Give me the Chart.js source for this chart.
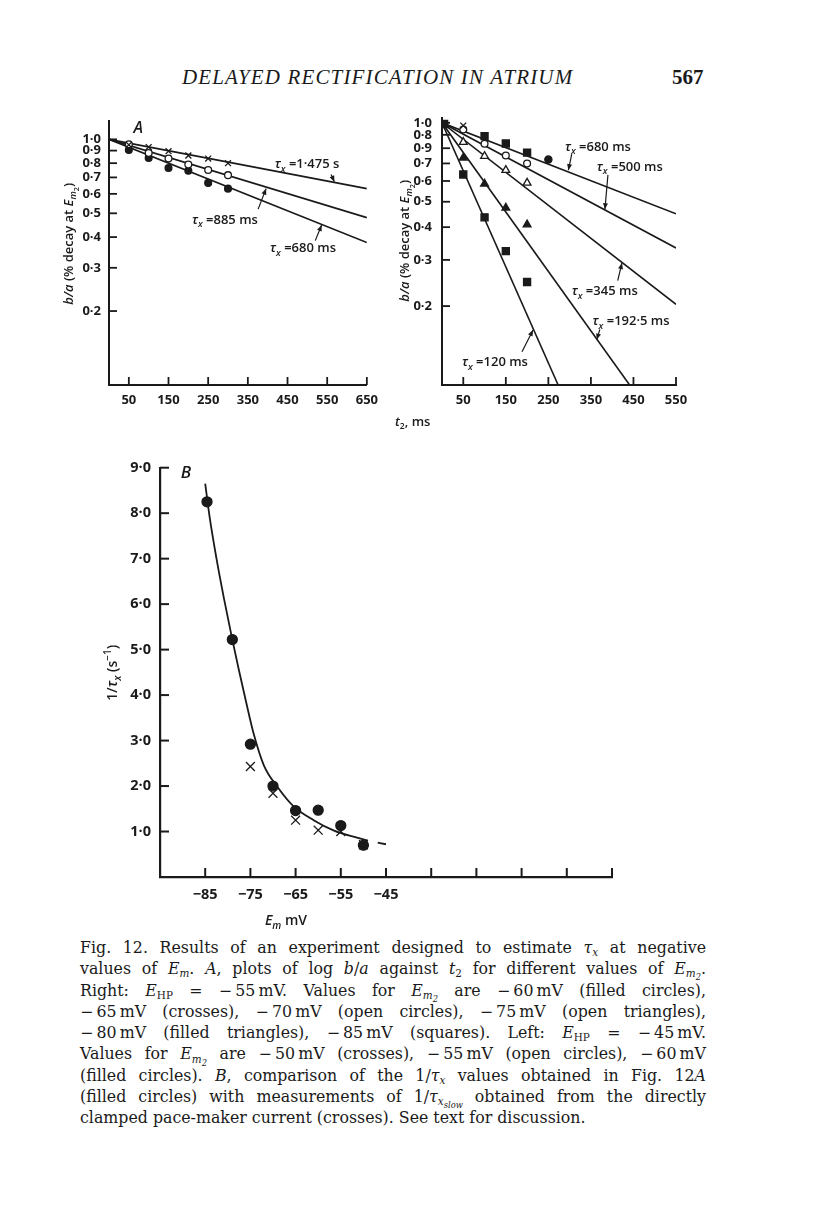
<!DOCTYPE html>
<html>
<head>
<meta charset="utf-8">
<script src="https://cdn.jsdelivr.net/npm/chart.js@4.4.1/dist/chart.umd.min.js"></script>
<style>
  body { margin: 0; background: #fff; width: 816px; height: 1219px; position: relative; overflow: hidden; color: #1a1a1a; }
  .plot { position: absolute; }
  #header { position: absolute; left: 182px; top: 67px; font-family: 'Liberation Serif', serif; font-style: italic; font-size: 21px; letter-spacing: 1.15px; line-height: 21px; }
  #pageno { position: absolute; left: 672px; top: 67px; font-family: 'Liberation Serif', serif; font-weight: bold; font-size: 21px; line-height: 21px; }
  #t2 { position: absolute; left: 395px; top: 412px; font-family: 'Open Sans', sans-serif; font-weight: 600; font-size: 13px; }
  #caption { position: absolute; left: 80px; top: 937px; width: 626px; font-family: 'DejaVu Serif', serif; font-size: 15.8px; }
  #caption div { height: 21.3px; line-height: 21.3px; text-align: justify; text-align-last: justify; }
  #caption div.last { text-align-last: left; }
  sub { font-size: 0.66em; vertical-align: -0.3em; line-height: 0; }
  sub sub { font-size: 0.8em; vertical-align: -0.35em; }
</style>
</head>
<body>
<div id="header">DELAYED RECTIFICATION IN ATRIUM</div>
<div id="pageno">567</div>

<canvas id="plotLeft" class="plot" width="345" height="320" style="left:40px;top:105px"></canvas>
<canvas id="plotRight" class="plot" width="316" height="325" style="left:380px;top:100px"></canvas>
<div id="t2"><i>t</i><sub>2</sub>, ms</div>
<canvas id="plotB" class="plot" width="530" height="480" style="left:100px;top:450px"></canvas>

<div id="caption">
  <div>Fig. 12. Results of an experiment designed to estimate <i>τ<sub>x</sub></i> at negative</div>
  <div>values of <i>E<sub>m</sub></i>. <i>A</i>, plots of log <i>b</i>/<i>a</i> against <i>t</i><sub>2</sub> for different values of <i>E<sub>m<sub>2</sub></sub></i>.</div>
  <div>Right: <i>E</i><sub>HP</sub> = −&thinsp;55&thinsp;mV. Values for <i>E<sub>m<sub>2</sub></sub></i> are −&thinsp;60&thinsp;mV (filled circles),</div>
  <div>−&thinsp;65&thinsp;mV (crosses), −&thinsp;70&thinsp;mV (open circles), −&thinsp;75&thinsp;mV (open triangles),</div>
  <div>−&thinsp;80&thinsp;mV (filled triangles), −&thinsp;85&thinsp;mV (squares). Left: <i>E</i><sub>HP</sub> = −&thinsp;45&thinsp;mV.</div>
  <div>Values for <i>E<sub>m<sub>2</sub></sub></i> are −&thinsp;50&thinsp;mV (crosses), −&thinsp;55&thinsp;mV (open circles), −&thinsp;60&thinsp;mV</div>
  <div>(filled circles). <i>B</i>, comparison of the 1/<i>τ<sub>x</sub></i> values obtained in Fig. 12<i>A</i></div>
  <div>(filled circles) with measurements of 1/<i>τ<sub>x<sub>slow</sub></sub></i> obtained from the directly</div>
  <div class="last">clamped pace-maker current (crosses). See text for discussion.</div>
</div>

<script>
// ---- Fig. 12A, left panel (E_HP = -45 mV) ----
const xTicksA = [50, 150, 250, 350, 450, 550, 650];
const xLabelsA = ['50', '150', '250', '350', '450', '550', '650'];
const yTicksA = [1.0, 0.9, 0.8, 0.7, 0.6, 0.5, 0.4, 0.3, 0.2];
const yLabelsLeft = ['1·0', '0·9', '0·8', '0·7', '0·6', '0·5', '0·4', '0·3', '0·2'];
// the printed right-hand axis has 0·8 and 0·9 swapped
const yLabelsRight = ['1·0', '0·8', '0·9', '0·7', '0·6', '0·5', '0·4', '0·3', '0·2'];

const tLeft = [50, 100, 150, 200, 250, 300];
const leftCrosses = [0.95, 0.93, 0.895, 0.86, 0.835, 0.80];
const leftOpenCircles = [0.955, 0.88, 0.835, 0.79, 0.75, 0.715];
const leftFilledCircles = [0.905, 0.84, 0.765, 0.745, 0.665, 0.63];
const leftFitT = [0, 650];
const leftFit1475 = [1.0, 0.63];
const leftFit885 = [1.0, 0.48];
const leftFit680 = [1.0, 0.38];

// ---- Fig. 12A, right panel (E_HP = -55 mV) ----
const xTicksR = [50, 150, 250, 350, 450, 550];
const xLabelsR = ['50', '150', '250', '350', '450', '550'];
const tRight = [50, 100, 150, 200];
const rightTopSquaresT = [100, 150, 200];
const rightTopSquares = [0.89, 0.834, 0.77];
const rightFilledCircleT = [250];
const rightFilledCircle = [0.724];
const rightCrossT = [50];
const rightCross = [0.976];
const rightOpenCircles = [0.943, 0.832, 0.75, 0.70];
const rightOpenTriangles = [0.844, 0.746, 0.66, 0.59];
const rightFilledTriangles = [0.735, 0.585, 0.474, 0.409];
const rightSquaresT = [5, 50, 100, 150, 200];
const rightSquares = [0.99, 0.635, 0.436, 0.324, 0.247];
const rightFitT = [0, 550];
const rightFit680 = [1.0, 0.45];
const rightFit500 = [1.0, 0.333];
const rightFit345 = [1.0, 0.203];
const rightFit192T = [0, 441];
const rightFit192 = [1.0, 0.1];
const rightFit120T = [0, 273];
const rightFit120 = [1.0, 0.1];

// ---- Fig. 12B ----
const xTicksB = [-85, -75, -65, -55, -45, -35, -25, -15, -5, 5];
const xLabelsB = ['−85', '−75', '−65', '−55', '−45', '', '', '', '', ''];
const yTicksB = [1, 2, 3, 4, 5, 6, 7, 8, 9];
const yLabelsB = ['1·0', '2·0', '3·0', '4·0', '5·0', '6·0', '7·0', '8·0', '9·0'];
const emCircles = [-84.6, -79, -75, -70, -65, -60, -55, -50];
const invTauCircles = [8.25, 5.22, 2.92, 2.0, 1.46, 1.47, 1.13, 0.70];
const emCrosses = [-75, -70, -65, -60, -55, -50];
const invTauCrosses = [2.43, 1.84, 1.25, 1.03, 1.0, 0.71];
const curveEm = [-85, -84, -82.5, -80.8, -79, -77.5, -76, -74.2, -72, -69, -65.5, -61, -56.5, -52, -49, -45];
const curveInvTau = [8.65, 7.9, 7.0, 6.1, 5.22, 4.53, 3.87, 3.12, 2.45, 1.98, 1.56, 1.25, 1.02, 0.88, 0.8, 0.72];

const ink = '#1a1a1a';
const pts = (xs, ys) => xs.map((x, i) => ({ x: x, y: ys[i] }));

function fitLine(xs, ys, w) {
    return { data: pts(xs, ys), showLine: true, borderColor: ink, borderWidth: w || 1.6, pointRadius: 0 };
}
function marker(xs, ys, style, filled, r) {
    return {
        data: pts(xs, ys), showLine: false, pointStyle: style, pointRadius: r,
        backgroundColor: filled ? ink : '#fff', borderColor: ink, pointBorderWidth: 1.3
    };
}

// rich text: segments of [text, flags]; i = italic, s = subscript, S = second-level subscript, p = superscript
function segFont(ctx, seg, size) {
    const f = seg[1] || '';
    let s = size;
    if (f.includes('s') || f.includes('p')) s = size * 0.72;
    if (f.includes('S')) s = size * 0.55;
    ctx.font = (f.includes('i') ? 'italic ' : '') + '600 ' + s.toFixed(1) + 'px "Open Sans"';
}
function richWidth(ctx, segs, size) {
    let w = 0;
    segs.forEach(seg => { segFont(ctx, seg, size); w += ctx.measureText(seg[0]).width; });
    return w;
}
function drawRich(ctx, segs, x, y, size, center) {
    let cx = center ? x - richWidth(ctx, segs, size) / 2 : x;
    ctx.textAlign = 'left';
    ctx.textBaseline = 'alphabetic';
    segs.forEach(seg => {
        const f = seg[1] || '';
        segFont(ctx, seg, size);
        let dy = 0;
        if (f.includes('s')) dy = size * 0.28;
        if (f.includes('S')) dy = size * 0.48;
        if (f.includes('p')) dy = -size * 0.4;
        ctx.fillText(seg[0], cx, y + dy);
        cx += ctx.measureText(seg[0]).width;
    });
}
function arrow(ctx, x1, y1, x2, y2) {
    ctx.beginPath();
    ctx.moveTo(x1, y1);
    ctx.lineTo(x2, y2);
    ctx.stroke();
    const a = Math.atan2(y2 - y1, x2 - x1);
    ctx.beginPath();
    ctx.moveTo(x2, y2);
    ctx.lineTo(x2 - 6 * Math.cos(a) + 2.5 * Math.sin(a), y2 - 6 * Math.sin(a) - 2.5 * Math.cos(a));
    ctx.lineTo(x2 - 6 * Math.cos(a) - 2.5 * Math.sin(a), y2 - 6 * Math.sin(a) + 2.5 * Math.cos(a));
    ctx.closePath();
    ctx.fill();
}

// inward tick marks, axis titles and labelled arrows
function makeExtras(cfg) {
    return {
        id: 'extras',
        afterDraw(chart) {
            const ctx = chart.ctx;
            const area = chart.chartArea;
            const xs = chart.scales.x, ys = chart.scales.y;
            ctx.save();
            ctx.strokeStyle = ink;
            ctx.fillStyle = ink;
            ctx.lineWidth = cfg.tickWidth;
            xs.ticks.forEach(t => {
                const p = xs.getPixelForValue(t.value);
                ctx.beginPath(); ctx.moveTo(p, area.bottom); ctx.lineTo(p, area.bottom - cfg.tickLen); ctx.stroke();
            });
            ys.ticks.forEach(t => {
                const p = ys.getPixelForValue(t.value);
                ctx.beginPath(); ctx.moveTo(area.left, p); ctx.lineTo(area.left + cfg.tickLen, p); ctx.stroke();
            });
            ctx.lineWidth = 1.2;
            (cfg.notes || []).forEach(n => {
                if (n.from) {
                    arrow(ctx, xs.getPixelForValue(n.from[0]), ys.getPixelForValue(n.from[1]),
                        xs.getPixelForValue(n.to[0]), ys.getPixelForValue(n.to[1]));
                }
                drawRich(ctx, n.segs, xs.getPixelForValue(n.at[0]), ys.getPixelForValue(n.at[1]), n.size || 13, false);
            });
            (cfg.titles || []).forEach(tt => {
                const cx = area.left + tt.dx, cy = area.top + tt.dy;
                if (tt.rot) {
                    ctx.save();
                    ctx.translate(cx, cy);
                    ctx.rotate(-Math.PI / 2);
                    drawRich(ctx, tt.segs, 0, tt.size * 0.36, tt.size, true);
                    ctx.restore();
                } else {
                    drawRich(ctx, tt.segs, cx, cy + tt.size * 0.36, tt.size, true);
                }
            });
            ctx.restore();
        }
    };
}

const tau = ['τ', 'i'], tauSub = ['x', 'is'];
const bOverA = [['b/a', 'i'], [' (% decay at ', ''], ['E', 'i'], ['m', 'is'], ['2', 'S'], [')', '']];

function axes(o) {
    const tickFont = { family: 'Open Sans', weight: '700', size: o.fontSize };
    return {
        x: {
            type: 'linear', min: o.xMin, max: o.xMax,
            grid: { display: false, drawTicks: false },
            border: { display: true, color: ink, width: o.axisWidth },
            afterBuildTicks: s => { s.ticks = o.xTicks.map(v => ({ value: v })); },
            afterFit: s => { s.height = o.xHeight; },
            ticks: { autoSkip: false, maxRotation: 0, color: ink, font: tickFont, padding: o.xPad,
                callback: (v, i) => o.xLabels[i] }
        },
        y: {
            type: o.yType, min: o.yMin, max: o.yMax,
            grid: { display: false, drawTicks: false },
            border: { display: true, color: ink, width: o.axisWidth },
            afterBuildTicks: s => { s.ticks = o.yTicks.map(v => ({ value: v })); },
            afterFit: s => { s.width = o.yWidth; },
            ticks: { autoSkip: false, color: ink, font: tickFont, padding: o.yPad,
                callback: (v, i) => o.yLabels[i] }
        }
    };
}

const baseOptions = (pad, scales) => ({
    responsive: false,
    animation: false,
    devicePixelRatio: 1,
    layout: { padding: pad },
    plugins: { legend: { display: false }, tooltip: { enabled: false } },
    scales: scales
});

// left panel of A
new Chart(document.getElementById('plotLeft'), {
    type: 'scatter',
    data: {
        datasets: [
            marker(tLeft, leftCrosses, 'crossRot', false, 4.2),
            marker(tLeft, leftOpenCircles, 'circle', false, 3.4),
            marker(tLeft, leftFilledCircles, 'circle', true, 3.4),
            fitLine(leftFitT, leftFit1475),
            fitLine(leftFitT, leftFit885),
            fitLine(leftFitT, leftFit680)
        ]
    },
    options: baseOptions({ top: 13, right: 15, left: 0, bottom: 0 }, axes({
        xMin: 0, xMax: 650, xTicks: xTicksA, xLabels: xLabelsA,
        yType: 'logarithmic', yMin: 0.1, yMax: 1.19, yTicks: yTicksA, yLabels: yLabelsLeft,
        fontSize: 13, axisWidth: 2, xHeight: 40, yWidth: 69, xPad: 7, yPad: 8
    })),
    plugins: [makeExtras({
        tickLen: 8, tickWidth: 1.8,
        notes: [
            { segs: [['A', 'i']], at: [62, 1.06], size: 16 },
            { segs: [tau, tauSub, [' =1·475 s', '']], at: [418, 0.762], from: [560, 0.72], to: [568, 0.672] },
            { segs: [tau, tauSub, [' =885 ms', '']], at: [209, 0.453], from: [376, 0.52], to: [396, 0.63] },
            { segs: [tau, tauSub, [' =680 ms', '']], at: [406, 0.347], from: [520, 0.387], to: [536, 0.448] }
        ],
        titles: [{ segs: bOverA, dx: -41, dy: 123, size: 13, rot: true }]
    })]
});

// right panel of A
new Chart(document.getElementById('plotRight'), {
    type: 'scatter',
    data: {
        datasets: [
            marker(rightCrossT, rightCross, 'crossRot', false, 4.2),
            marker(rightFilledCircleT, rightFilledCircle, 'circle', true, 3.6),
            marker(rightTopSquaresT, rightTopSquares, 'rect', true, 5),
            marker(tRight, rightOpenCircles, 'circle', false, 3.4),
            marker(tRight, rightOpenTriangles, 'triangle', false, 4.5),
            marker(tRight, rightFilledTriangles, 'triangle', true, 4.5),
            marker(rightSquaresT, rightSquares, 'rect', true, 5),
            fitLine(rightFitT, rightFit680),
            fitLine(rightFitT, rightFit500),
            fitLine(rightFitT, rightFit345),
            fitLine(rightFit192T, rightFit192),
            fitLine(rightFit120T, rightFit120)
        ]
    },
    options: baseOptions({ top: 15, right: 20, left: 0, bottom: 0 }, axes({
        xMin: 0, xMax: 550, xTicks: xTicksR, xLabels: xLabelsR,
        yType: 'logarithmic', yMin: 0.1, yMax: 1.045, yTicks: yTicksA, yLabels: yLabelsRight,
        fontSize: 13, axisWidth: 2, xHeight: 40, yWidth: 62, xPad: 7, yPad: 10
    })),
    plugins: [makeExtras({
        tickLen: 8, tickWidth: 1.8,
        notes: [
            { segs: [tau, tauSub, [' =680 ms', '']], at: [289, 0.782], from: [305, 0.76], to: [297, 0.66] },
            { segs: [tau, tauSub, [' =500 ms', '']], at: [364, 0.656], from: [390, 0.633], to: [383, 0.468] },
            { segs: [tau, tauSub, [' =345 ms', '']], at: [305, 0.22], from: [413, 0.25], to: [423, 0.292] },
            { segs: [tau, tauSub, [' =192·5 ms', '']], at: [354, 0.169], from: [371, 0.163], to: [364, 0.149] },
            { segs: [tau, tauSub, [' =120 ms', '']], at: [47, 0.118], from: [188, 0.134], to: [214, 0.162] }
        ],
        titles: [{ segs: bOverA, dx: -38, dy: 123, size: 13, rot: true }]
    })]
});

// panel B
const curve = fitLine(curveEm, curveInvTau, 1.8);
curve.tension = 0.4;
curve.cubicInterpolationMode = 'monotone';
curve.segment = { borderDash: c => (c.p1DataIndex === curveEm.length - 1 ? [0, 10, 9, 10] : undefined) };

new Chart(document.getElementById('plotB'), {
    type: 'scatter',
    data: {
        datasets: [
            marker(emCrosses, invTauCrosses, 'crossRot', false, 6.3),
            marker(emCircles, invTauCircles, 'circle', true, 5),
            curve
        ]
    },
    options: baseOptions({ top: 14, right: 18, left: 0, bottom: 0 }, axes({
        xMin: -95, xMax: 5, xTicks: xTicksB, xLabels: xLabelsB,
        yType: 'linear', yMin: 0, yMax: 9, yTicks: yTicksB, yLabels: yLabelsB,
        fontSize: 14.5, axisWidth: 2.2, xHeight: 53, yWidth: 60, xPad: 9, yPad: 9
    })),
    plugins: [makeExtras({
        tickLen: 9, tickWidth: 2,
        notes: [{ segs: [['B', 'i']], at: [-90.4, 8.78], size: 17 }],
        titles: [
            { segs: [['1/', ''], tau, tauSub, [' (s', ''], ['−1', 'p'], [')', '']], dx: -48, dy: 205, size: 14, rot: true },
            { segs: [['E', 'i'], ['m', 'is'], [' mV', '']], dx: 126, dy: 452, size: 14, rot: false }
        ]
    })]
});
</script>
</body>
</html>
